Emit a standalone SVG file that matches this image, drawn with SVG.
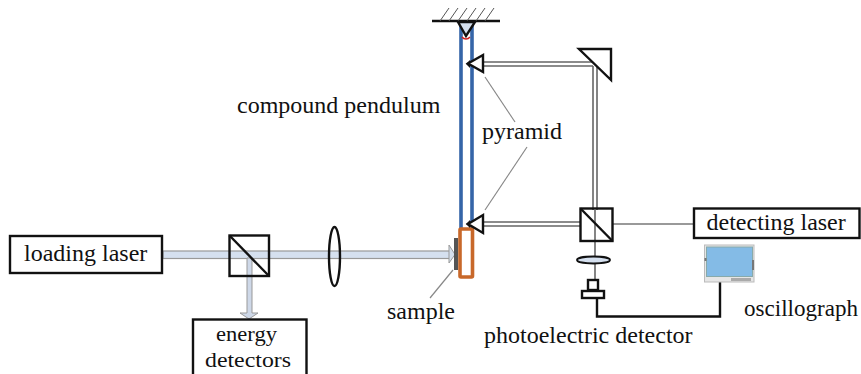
<svg xmlns="http://www.w3.org/2000/svg" width="861" height="374" viewBox="0 0 861 374">
<style>
text{font-family:"Liberation Serif","Times New Roman",serif;font-size:24px;fill:#111}
.box{fill:#fff;stroke:#111;stroke-width:2.4}
.k{fill:none;stroke:#111;stroke-width:2.4}
.kf{fill:#fff;stroke:#111;stroke-width:2.4}
.g{fill:none;stroke:#666;stroke-width:1.6}
.t{fill:none;stroke:#888;stroke-width:1.2}
.tight{font-size:22px}
</style>
<rect width="861" height="374" fill="#fff"/>
<g id="connectors">
<rect x="163" y="251" width="287" height="7.500" fill="#d5e0ef" stroke="#999" stroke-width="1.2"/>
<path d="M449 245L455 254.500L449 263Z" fill="#d5e0ef" stroke="#999" stroke-width="1"/>
<path d="M247 258V313H240L249 319L258 313H252V258Z" fill="#ced8e8" stroke="#999" stroke-width="1"/>
<path class="g" d="M482 62H597M482 66H593"/>
<path class="g" d="M593 66V210M597 62V210"/>
<path class="g" d="M482 222H581M482 226H581"/>
<path class="g" d="M595 210V241"/>
<path d="M613 224H694" fill="none" stroke="#777" stroke-width="1.500"/>
<path class="g" d="M595 241V280"/>
<path class="k" d="M597 298V316.500H720V282"/>
<path class="t" d="M485 77L515 122"/>
<path class="t" d="M485 210L527 147"/>
<path class="t" d="M453 270L430 298"/>
</g>
<g id="ceiling">
<path class="k" d="M432 21H500"/>
<path d="M440 21L449 8M449 21L458 8M458 21L467 8M467 21L476 8M476 21L485 8M485 21L494 8" fill="none" stroke="#555" stroke-width="1"/>
</g>
<g id="pendulum">
<path d="M461 26V229M472 26V229" fill="none" stroke="#3565a8" stroke-width="3.600"/>
<path d="M458 22H475L466 36Z" fill="#d5e0ef" stroke="#111" stroke-width="2.400"/>
<path d="M462 37A5 5 0 0 0 470 37" fill="none" stroke="#d02020" stroke-width="1.400"/>
<rect x="460" y="229" width="12.500" height="48" rx="1" fill="#fff" stroke="#c8682a" stroke-width="3.600"/>
</g>
<g id="sample"><rect x="454" y="238" width="4" height="32" fill="#555"/></g>
<g id="pyramid-top"><path class="kf" d="M483 55V72L468 63.500Z"/><path d="M466 64L470 60V68Z" fill="#111"/></g>
<g id="pyramid-bottom"><path class="kf" d="M483 215V233L468 224Z"/><path d="M466 224L470 220V228Z" fill="#111"/></g>
<g id="mirror"><path class="kf" d="M579 49H611V80Z"/></g>
<g id="splitter-right"><rect class="k" x="580.500" y="208.500" width="32" height="32.500"/><path class="k" d="M580.500 208.500L612.500 241"/></g>
<g id="splitter-left"><rect class="k" x="229.500" y="235.500" width="39.500" height="40.500"/><path class="k" d="M229.500 235.500L269 276"/></g>
<g id="lens-left"><ellipse class="k" cx="334.500" cy="256.500" rx="5.500" ry="29.500"/></g>
<g id="lens-right"><ellipse cx="593.500" cy="260" rx="16.500" ry="3.500" fill="#d5e0ef" stroke="#111" stroke-width="1.800"/></g>
<g id="photoelectric-detector"><rect class="kf" x="588" y="280" width="10" height="10"/><rect class="kf" x="582" y="291" width="22" height="7"/></g>
<g id="oscilloscope">
<rect x="704.500" y="245" width="49.500" height="37" fill="#e6e6e6" stroke="#bbb"/>
<rect x="706.500" y="247" width="46" height="29.500" fill="#84bbe6" stroke="#8aa"/>
<rect x="731" y="278" width="20" height="3" fill="#aaa"/>
<rect x="752" y="260" width="2" height="10" fill="#777"/>
<rect x="704.500" y="258" width="2" height="3" fill="#777"/>
</g>
<g id="loading-laser"><rect class="box" x="10" y="236" width="152" height="37"/><text x="24" y="261">loading laser</text></g>
<g id="energy-detectors"><rect class="box" x="193" y="319.500" width="113.500" height="58"/><text class="tight" x="216" y="341" textLength="61" lengthAdjust="spacingAndGlyphs">energy</text><text class="tight" x="205" y="366.500" textLength="86" lengthAdjust="spacingAndGlyphs">detectors</text></g>
<g id="detecting-laser"><rect class="box" x="694" y="208.500" width="165.500" height="29.500"/><text x="706.500" y="230">detecting laser</text></g>
<g id="labels">
<text x="237" y="113">compound pendulum</text>
<text x="482" y="139">pyramid</text>
<text x="387" y="319">sample</text>
<text x="484" y="343">photoelectric detector</text>
<text x="744" y="316" textLength="114" lengthAdjust="spacingAndGlyphs">oscillograph</text>
</g>
</svg>
